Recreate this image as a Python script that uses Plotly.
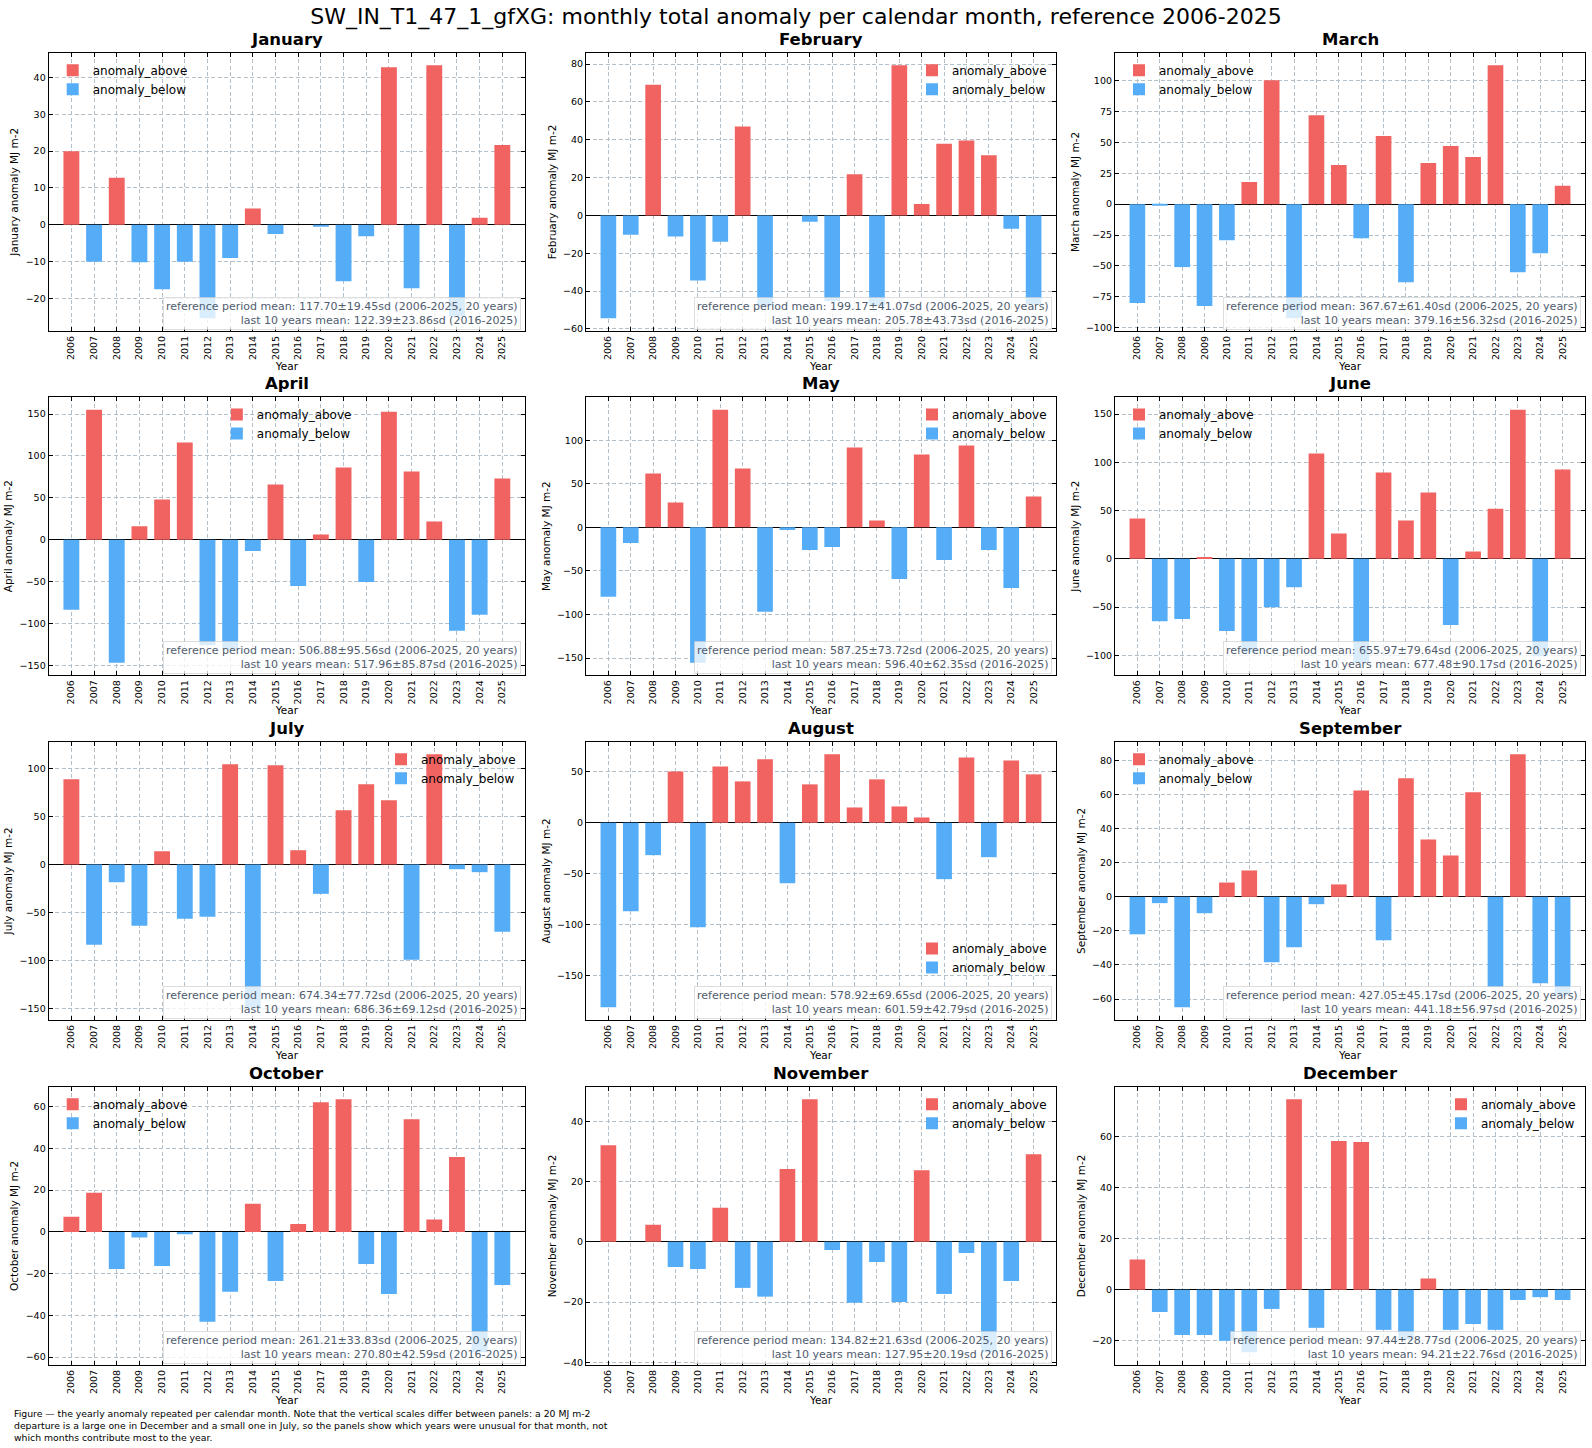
import plotly.graph_objects as go

W, H = 1592, 1448

years = list(range(2006, 2026))
month_names = ["January", "February", "March", "April", "May", "June",
               "July", "August", "September", "October", "November", "December"]

anom_jan = [20.0, -10.0, 12.8, -10.2, -17.5, -10.0, -25.4, -9.0, 4.4, -2.5,
            0.0, -0.4, -15.3, -3.1, 42.8, -17.2, 43.3, -24.8, 1.9, 21.7]
anom_feb = [-54.4, -10.2, 69.1, -11.2, -34.4, -13.9, 47.0, -48.0, 0.0, -3.3,
            -45.4, 21.8, -48.0, 79.3, 6.0, 37.9, 39.6, 31.8, -7.0, -46.8]
anom_mar = [-80.1, -1.0, -51.0, -82.5, -29.3, 18.0, 100.3, -92.5, 72.0, 31.7,
            -27.7, 55.1, -63.2, 33.3, 47.0, 38.2, 112.4, -55.1, -39.8, 14.8]
anom_apr = [-83.7, 155.2, -146.8, 15.9, 48.0, 115.9, -126.0, -131.0, -13.5, 65.9,
            -55.2, 6.3, 86.1, -50.4, 152.8, 81.3, 21.8, -108.7, -89.7, 73.0]
anom_may = [-79.8, -17.9, 61.8, 28.6, -155.3, 135.1, 67.6, -96.9, -3.0, -26.0,
            -22.5, 91.6, 8.0, -59.2, 83.6, -37.4, 93.9, -26.0, -69.5, 35.5]
anom_jun = [41.7, -64.5, -62.4, 1.0, -74.8, -97.0, -50.0, -29.3, 109.0, 26.2,
            -107.5, 89.3, 39.7, 68.6, -68.6, 7.6, 52.0, 154.5, -101.0, 92.4]
anom_jul = [88.9, -83.7, -18.4, -63.9, 13.9, -56.6, -54.5, 104.5, -149.0, 103.5,
            14.9, -30.6, 56.6, 83.7, 67.0, -99.3, 114.9, -4.9, -8.0, -70.1]
anom_aug = [-180.7, -86.6, -31.7, 50.3, -102.3, 55.2, 40.5, 62.1, -59.2, 37.6,
            67.0, 15.0, 42.5, 16.0, 5.2, -55.2, 64.0, -33.7, 61.1, 47.4]
anom_sep = [-22.0, -3.7, -64.9, -9.6, 8.4, 15.5, -38.4, -29.6, -4.3, 7.3,
            62.5, -25.5, 69.6, 33.7, 24.3, 61.4, -53.1, 83.7, -50.8, -58.0]
anom_oct = [7.3, 18.7, -17.8, -2.7, -16.3, -1.1, -43.0, -28.7, 13.5, -23.5,
            3.8, 62.1, 63.5, -15.4, -29.7, 54.0, 5.9, 35.9, -57.7, -25.4]
anom_nov = [32.1, 0.0, 5.7, -8.4, -9.0, 11.3, -15.3, -18.2, 24.2, 47.3,
            -2.7, -20.2, -6.7, -20.0, 23.8, -17.3, -3.7, -36.7, -13.0, 29.1]
anom_dec = [11.8, -8.7, -17.7, -17.7, -20.0, -24.5, -7.5, 74.5, -14.9, 58.2,
            57.8, -15.7, -19.5, 4.4, -15.7, -13.4, -15.7, -4.0, -2.9, -4.0]

ref_mean = [117.70, 199.17, 367.67, 506.88, 587.25, 655.97, 674.34, 578.92, 427.05, 261.21, 134.82, 97.44]
ref_sd = [19.45, 41.07, 61.40, 95.56, 73.72, 79.64, 77.72, 69.65, 45.17, 33.83, 21.63, 28.77]
last10_mean = [122.39, 205.78, 379.16, 517.96, 596.40, 677.48, 686.36, 601.59, 441.18, 270.80, 127.95, 94.21]
last10_sd = [23.86, 43.73, 56.32, 85.87, 62.35, 90.17, 69.12, 42.79, 56.97, 42.59, 20.19, 22.76]

y_tick_step = [10, 20, 25, 50, 50, 50, 50, 50, 20, 20, 20, 20]
legend_loc = ["upper left", "upper right", "upper left", "upper center", "upper right", "upper left",
              "upper right", "lower right", "upper left", "upper left", "upper right", "upper right"]

series = [anom_jan, anom_feb, anom_mar, anom_apr, anom_may, anom_jun,
          anom_jul, anom_aug, anom_sep, anom_oct, anom_nov, anom_dec]

TITLE = "SW_IN_T1_47_1_gfXG: monthly total anomaly per calendar month, reference 2006-2025"
FOOTER = ("Figure — the yearly anomaly repeated per calendar month. Note that the vertical scales differ between panels: a 20 MJ m-2<br>"
          "departure is a large one in December and a small one in July, so the panels show which years were unusual for that month, not<br>"
          "which months contribute most to the year.")

# ---- styling / layout (pixels) ----
FONT = "DejaVu Sans"
RED = "rgb(240,99,97)"
BLUE = "rgb(84,173,246)"
GRID = "#b3c0c9"
GRID_DASH = "4px,2.5px"
TXT = "#505c6e"
COLS = [(48.7, 525.0), (586.0, 1056.0), (1115.0, 1585.0)]
ROWS = [(52.7, 331.0), (397.0, 675.3), (741.7, 1020.0), (1086.7, 1365.0)]

fig = go.Figure()
layout = {}
annotations = []

for i, (name, vals) in enumerate(zip(month_names, series)):
    k = i + 1
    sfx = "" if k == 1 else str(k)
    xa, ya, lg = "x" + sfx, "y" + sfx, "legend" + sfx
    r, c = divmod(i, 3)
    x0, x1 = COLS[c]
    y0, y1 = ROWS[r]

    fig.add_trace(go.Bar(x=years, y=[v if v > 0 else None for v in vals], name="anomaly_above",
                         marker=dict(color=RED, line=dict(width=0)), width=0.7,
                         xaxis=xa, yaxis=ya, legend=lg, showlegend=True))
    fig.add_trace(go.Bar(x=years, y=[v if v < 0 else None for v in vals], name="anomaly_below",
                         marker=dict(color=BLUE, line=dict(width=0)), width=0.7,
                         xaxis=xa, yaxis=ya, legend=lg, showlegend=True))

    lo, hi = min(min(vals), 0.0), max(max(vals), 0.0)
    pad = 0.05 * (hi - lo)

    layout["xaxis" + sfx] = dict(
        domain=[x0 / W, x1 / W], anchor=ya, range=[years[0] - 1, years[-1] + 1],
        tickmode="array", tickvals=years, ticktext=[str(y) for y in years], tickangle=-90,
        ticks="inside", ticklen=4, tickcolor="black", mirror="ticks", showline=True,
        linecolor="black", linewidth=1.2, showgrid=True, gridcolor=GRID, griddash=GRID_DASH,
        gridwidth=0.8, zeroline=False, tickfont=dict(size=9.5, color="black"),
        title=dict(text="Year", font=dict(size=10.5, color="black"), standoff=3), automargin=False)
    layout["yaxis" + sfx] = dict(
        domain=[1 - y1 / H, 1 - y0 / H], anchor=xa, range=[lo - pad, hi + pad],
        tick0=0, dtick=y_tick_step[i], ticks="inside", ticklen=4, tickcolor="black",
        mirror="ticks", showline=True, linecolor="black", linewidth=1.2, showgrid=True,
        gridcolor=GRID, griddash=GRID_DASH, gridwidth=0.8, zeroline=True, zerolinecolor="black",
        zerolinewidth=1.3, tickfont=dict(size=9.5, color="black"),
        title=dict(text=f"{name} anomaly MJ m-2", font=dict(size=10.5, color="black"), standoff=4),
        automargin=False)

    loc = legend_loc[i]
    if "left" in loc:
        lx, lxa = (x0 + 4) / W, "left"
    elif "right" in loc:
        lx, lxa = (x1 - 4) / W, "right"
    else:
        lx, lxa = (x0 + x1) / 2 / W, "center"
    if loc.startswith("upper"):
        ly, lya = 1 - (y0 + 3) / H, "top"
    else:
        # sit just above the statistics box so both stay readable
        ly, lya = 1 - (y1 - 38) / H, "bottom"
    layout[lg] = dict(x=lx, y=ly, xanchor=lxa, yanchor=lya, bgcolor="rgba(0,0,0,0)",
                      borderwidth=0, font=dict(size=12, color="black", family=FONT),
                      itemwidth=30, tracegroupgap=0, traceorder="normal")

    annotations.append(dict(
        text=f"<b>{name}</b>", x=(x0 + x1) / 2 / W, y=1 - (y0 - 2) / H, xref="paper", yref="paper",
        xanchor="center", yanchor="bottom", showarrow=False, font=dict(size=16.5, color="black")))
    annotations.append(dict(
        text=(f"reference period mean: {ref_mean[i]:.2f}±{ref_sd[i]:.2f}sd ({years[0]}-{years[-1]}, {len(years)} years)<br>"
              f"last 10 years mean: {last10_mean[i]:.2f}±{last10_sd[i]:.2f}sd ({years[-10]}-{years[-1]})"),
        x=(x1 - 4) / W, y=1 - (y1 - 1) / H, xref="paper", yref="paper", xanchor="right", yanchor="bottom",
        align="right", showarrow=False, font=dict(size=11, color=TXT),
        bgcolor="rgba(255,255,255,0.78)", bordercolor="rgba(200,200,200,0.6)", borderwidth=1, borderpad=2))

annotations.append(dict(text=FOOTER, x=12 / W, y=1 - 1406 / H, xref="paper", yref="paper",
                        xanchor="left", yanchor="top", align="left", showarrow=False,
                        font=dict(size=9.3, color="black")))

fig.update_layout(
    width=W, height=H, margin=dict(l=0, r=0, t=0, b=0),
    paper_bgcolor="white", plot_bgcolor="white", barmode="overlay",
    font=dict(family=FONT, color="black"),
    title=dict(text=TITLE, x=0.5, xanchor="center", y=1 - 16 / H, yanchor="middle",
               font=dict(size=22, color="black")),
    annotations=annotations,
    **layout,
)

fig.write_html("out.html", config={"displayModeBar": False},
               post_script="document.body.style.margin='0';document.body.style.overflow='hidden';")
